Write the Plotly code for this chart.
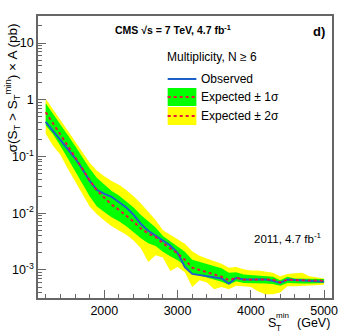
import numpy as np
import plotly.graph_objects as go

# ---------------- data ----------------
st_min_gev = [1200, 1300, 1400, 1500, 1600, 1700, 1800, 1900, 2000, 2100,
              2200, 2300, 2400, 2500, 2600, 2700, 2800, 2900, 3000, 3100,
              3200, 3300, 3400, 3500, 3600, 3700, 3800, 3900, 4000, 4100,
              4200, 4300, 4400, 4500, 4600, 4700, 4800, 4900, 5000]

# values given as log10(sigma x A / pb)
observed_log10 = [-0.39, -0.55, -0.71, -0.86, -1.03, -1.22, -1.43, -1.59, -1.66, -1.71,
                  -1.80, -1.90, -2.03, -2.19, -2.31, -2.40, -2.48, -2.57, -2.70, -2.95,
                  -3.07, -3.09, -3.10, -3.12, -3.15, -3.24, -3.14, -3.17, -3.17, -3.17,
                  -3.17, -3.19, -3.23, -3.17, -3.18, -3.19, -3.20, -3.21, -3.21]

expected_log10 = [-0.22, -0.41, -0.61, -0.81, -1.01, -1.22, -1.42, -1.60, -1.73, -1.85,
                  -1.94, -2.04, -2.15, -2.27, -2.36, -2.42, -2.53, -2.62, -2.71, -2.82,
                  -2.96, -3.00, -3.04, -3.08, -3.12, -3.18, -3.14, -3.17, -3.17, -3.16,
                  -3.16, -3.17, -3.22, -3.17, -3.18, -3.18, -3.19, -3.19, -3.19]

exp_1s_up_log10 = [-0.06, -0.24, -0.43, -0.62, -0.81, -1.02, -1.21, -1.38, -1.50, -1.61,
                   -1.69, -1.79, -1.90, -2.03, -2.14, -2.25, -2.40, -2.49, -2.58, -2.68,
                   -2.82, -2.86, -2.89, -2.93, -2.97, -3.05, -3.04, -3.08, -3.09, -3.10,
                   -3.12, -3.12, -3.18, -3.12, -3.15, -3.15, -3.16, -3.16, -3.16]

exp_1s_dn_log10 = [-0.45, -0.61, -0.81, -1.03, -1.26, -1.47, -1.70, -1.88, -1.98, -2.07,
                   -2.14, -2.23, -2.33, -2.44, -2.53, -2.58, -2.68, -2.76, -2.83, -2.92,
                   -3.06, -3.10, -3.14, -3.17, -3.21, -3.26, -3.20, -3.23, -3.24, -3.24,
                   -3.24, -3.25, -3.28, -3.23, -3.24, -3.24, -3.24, -3.24, -3.23]

exp_2s_up_log10 = [0.02, -0.16, -0.35, -0.54, -0.73, -0.93, -1.11, -1.25, -1.35, -1.43,
                   -1.50, -1.59, -1.70, -1.83, -1.98, -2.12, -2.30, -2.38, -2.45, -2.54,
                   -2.67, -2.75, -2.80, -2.85, -2.89, -2.96, -2.95, -2.99, -3.01, -3.01,
                   -3.03, -3.05, -3.11, -3.07, -3.06, -3.05, -3.11, -3.13, -3.15]

exp_2s_dn_log10 = [-0.60, -0.81, -0.97, -1.21, -1.43, -1.66, -1.88, -2.02, -2.13, -2.23,
                   -2.30, -2.38, -2.48, -2.62, -2.86, -2.74, -2.78, -3.02, -2.95, -3.04,
                   -3.30, -3.18, -3.22, -3.34, -3.30, -3.34, -3.28, -3.29, -3.30, -3.38,
                   -3.43, -3.43, -3.40, -3.29, -3.29, -3.28, -3.28, -3.27, -3.26]

x_tick_vals = [2000, 3000, 4000, 5000]
x_tick_text = ["2000", "3000", "4000", "5000"]
y_tick_vals = [1e-3, 1e-2, 1e-1, 1, 10]
y_tick_text = ["10<sup>-3</sup>", "10<sup>-2</sup>", "10<sup>-1</sup>", "1", "10"]

# ---------------- layout helpers ----------------
W, H = 350, 332
L, R, T, B = 35, 18, 16, 34
PW, PH = W - L - R, H - T - B
FONT = "Liberation Sans, Arial, Helvetica, sans-serif"
AXC = "#666666"


def px(x):
    return (x - L) / PW


def py(y):
    return (H - B - y) / PH


x = np.array(st_min_gev, dtype=float)
xx = np.concatenate([x, x[::-1]])


def band(up, dn, color):
    yy = 10 ** np.concatenate([np.array(up), np.array(dn)[::-1]])
    return go.Scatter(x=xx, y=yy, mode="lines", fill="toself", fillcolor=color,
                      line=dict(width=0, color=color), hoverinfo="skip", showlegend=False)


fig = go.Figure()
fig.add_trace(band(exp_2s_up_log10, exp_2s_dn_log10, "#ffff00"))
fig.add_trace(band(exp_1s_up_log10, exp_1s_dn_log10, "#00ff00"))
fig.add_trace(go.Scatter(x=x, y=10 ** np.array(observed_log10), mode="lines",
                         line=dict(color="#1f5fc8", width=2), showlegend=False))
fig.add_trace(go.Scatter(x=x, y=10 ** np.array(expected_log10), mode="lines",
                         line=dict(color="#e8143c", width=2, dash="dot"), showlegend=False))

ann = []


def text(s, xp, yp, size, xanchor="left", yanchor="middle", bold=False, angle=0):
    if bold:
        s = "<b>" + s + "</b>"
    ann.append(dict(text=s, x=px(xp), y=py(yp), xref="paper", yref="paper",
                    xanchor=xanchor, yanchor=yanchor, showarrow=False, textangle=angle,
                    font=dict(family=FONT, size=size, color="black")))


text("CMS √s = 7 TeV, 4.7 fb<sup>-1</sup>", 171, 29, 10.5, xanchor="center", bold=True)
text("d)", 327, 32, 13, xanchor="right", bold=True)
text("Multiplicity, N ≥ 6", 163, 57, 12)
text("Observed", 198, 79, 12)
text("Expected ± 1σ", 198, 97, 12)
text("Expected ± 2σ", 198, 116, 12)
text("2011, 4.7 fb<sup>-1</sup>", 251, 238, 11.5)
# x-axis title
text("S", 265, 323, 12.5)
text("T", 273, 328, 8.5)
text("min", 273, 315, 8)
text("(GeV)", 332, 323, 12.5, xanchor="right")
# y-axis title
text("σ(S<sub>T</sub> > S<sub>T</sub><sup>min</sup>) × A (pb)", 9, 88, 13.5,
     xanchor="center", angle=-90)

shapes = [
    dict(type="line", xref="paper", yref="paper", x0=px(166), x1=px(195), y0=py(79), y1=py(79),
         line=dict(color="#1f5fc8", width=2)),
    dict(type="rect", xref="paper", yref="paper", x0=px(166), x1=px(195), y0=py(106), y1=py(88),
         fillcolor="#00ff00", line=dict(width=0)),
    dict(type="line", xref="paper", yref="paper", x0=px(166), x1=px(195), y0=py(97), y1=py(97),
         line=dict(color="#e8143c", width=2, dash="dot")),
    dict(type="rect", xref="paper", yref="paper", x0=px(166), x1=px(195), y0=py(125), y1=py(107),
         fillcolor="#ffff00", line=dict(width=0)),
    dict(type="line", xref="paper", yref="paper", x0=px(166), x1=px(195), y0=py(116), y1=py(116),
         line=dict(color="#e8143c", width=2, dash="dot")),
]

fig.update_layout(
    width=W, height=H,
    margin=dict(l=L, r=R, t=T, b=B, pad=0),
    paper_bgcolor="white", plot_bgcolor="white",
    font=dict(family=FONT, size=12.5, color="black"),
    annotations=ann, shapes=shapes, showlegend=False,
    xaxis=dict(range=[1095, 5108], tickmode="array", tickvals=x_tick_vals, ticktext=x_tick_text,
               ticks="inside", ticklen=8, tickcolor=AXC, tickwidth=1,
               showline=True, linecolor=AXC, linewidth=1.5, mirror=True,
               showgrid=False, zeroline=False,
               tickfont=dict(family=FONT, size=12.5, color="black"),
               minor=dict(tickmode="linear", tick0=1200, dtick=200, ticks="inside",
                          ticklen=4, tickcolor=AXC, showgrid=False)),
    yaxis=dict(type="log", range=[-3.495, 1.477], tickmode="array", tickvals=y_tick_vals,
               ticktext=y_tick_text, ticks="inside", ticklen=8, tickcolor=AXC, tickwidth=1,
               showline=True, linecolor=AXC, linewidth=1.5, mirror=True,
               showgrid=False, zeroline=False,
               tickfont=dict(family=FONT, size=12.5, color="black"),
               minor=dict(dtick="D1", ticks="inside", ticklen=4, tickcolor=AXC, showgrid=False)),
)

fig.write_html("out.html", config={"displayModeBar": False},
               post_script="document.body.style.margin='0';")
